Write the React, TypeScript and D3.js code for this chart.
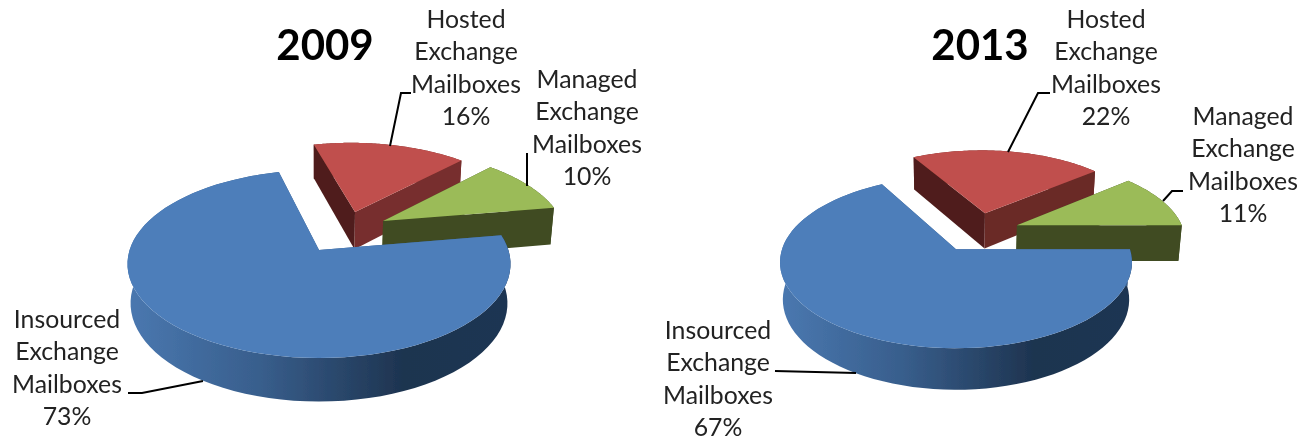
import React from "react";
import * as d3 from "d3";

const categories = ["Insourced", "Hosted", "Managed"];
const values2009 = [73, 16, 10];
const values2013 = [67, 22, 11];
const topColors = ["#4d7eba", "#c0504d", "#9bbb59"];
const startFaceColors = ["#3a5f8c", "#4f1f1c", "#3f4b20"];
const endFaceColors2009 = ["#3a5f8c", "#772f2d", "#3f4b20"];
const endFaceColors2013 = ["#3a5f8c", "#6b2a28", "#3f4b20"];
const wallColors = ["", "#772f2d", "#3f4b20"];

const deg = Math.PI / 180;

type Geo = {
  id: string; cx: number; apexY: number; rx: number; ry: number; k: number; m: number; h: number;
  startDeg: number; offsets: number[][]; radii: number[]; gx0: number; gx1: number;
};

const geo2009: Geo = {
  id: "a", cx: 319, apexY: 250, rx: 189.4, ry: 91.9, k: -0.149, m: 0.016, h: 39.5,
  startDeg: 80.5, offsets: [[0, 0], [0.2026, -0.44], [0.355, -0.331]], radii: [1, 0.972, 0.99], gx0: 127, gx1: 510,
};
const geo2013: Geo = {
  id: "b", cx: 956, apexY: 249.3, rx: 174, ry: 84, k: -0.151, m: 0.016, h: 37.5,
  startDeg: 90, offsets: [[0, 0], [0.178, -0.458], [0.366, -0.298]], radii: [1, 0.975, 0.99], gx0: 780, gx1: 1132,
};

type Label = { lines: string[]; x: number; y: number };
const labels2009: Label[] = [
  { lines: ["Hosted", "Exchange", "Mailboxes", "16%"], x: 466, y: 20 },
  { lines: ["Managed", "Exchange", "Mailboxes", "10%"], x: 587, y: 80 },
  { lines: ["Insourced", "Exchange", "Mailboxes", "73%"], x: 67, y: 320 },
];
const labels2013: Label[] = [
  { lines: ["Hosted", "Exchange", "Mailboxes", "22%"], x: 1106, y: 20 },
  { lines: ["Managed", "Exchange", "Mailboxes", "11%"], x: 1243, y: 117 },
  { lines: ["Insourced", "Exchange", "Mailboxes", "67%"], x: 718, y: 331 },
];
const leaders: number[][][] = [
  [[411, 93], [401, 93], [390, 146]],
  [[527, 153], [527, 186]],
  [[128, 393], [142, 393], [203, 381]],
  [[1050, 93], [1038, 93], [1008, 152]],
  [[1183, 191], [1172, 191], [1163, 201]],
  [[775, 371], [856, 373]],
];

const line = d3.line();

function Pie({ values, geo, endFaces }: { values: number[]; geo: Geo; endFaces: string[] }) {
  const arcs = d3.pie<number>().sort(null).startAngle(geo.startDeg * deg).endAngle(geo.startDeg * deg + 2 * Math.PI)(values);
  const project = (X: number, Y: number, Z: number): [number, number] => {
    const d = 1 + geo.k * Y + geo.m * Z;
    return [geo.cx + (geo.rx * X) / d, geo.apexY + (geo.ry * Y + geo.h * Z) / d];
  };
  const order = [1, 2, 0];
  return (
    <g>
      <defs>
        <linearGradient id={"G" + geo.id} gradientUnits="userSpaceOnUse" x1={geo.gx0} x2={geo.gx1} y1="0" y2="0">
          <stop offset="0" stopColor="#4a78b0" />
          <stop offset="0.35" stopColor="#385e8c" />
          <stop offset="0.72" stopColor="#1e3450" />
          <stop offset="1" stopColor="#1f3552" />
        </linearGradient>
      </defs>
      {order.map((i) => {
        const a = arcs[i];
        const [ox, oy] = geo.offsets[i];
        const r = geo.radii[i];
        const n = 80;
        const angles = d3.range(n + 1).map((t) => a.startAngle + ((a.endAngle - a.startAngle) * t) / n);
        const rim = (z: number) => angles.map((t) => project(ox + r * Math.sin(t), oy - r * Math.cos(t), z));
        const apex = (z: number) => project(ox, oy, z);
        const rim0 = rim(0);
        const rim1 = rim(1);
        const top = line([apex(0), ...rim0])! + "Z";
        const wall = line([...rim0, ...rim1.slice().reverse()])! + "Z";
        const startFace = line([apex(0), rim0[0], rim1[0], apex(1)])! + "Z";
        const endFace = line([apex(0), rim0[n], rim1[n], apex(1)])! + "Z";
        const wallFill = i === 0 ? `url(#G${geo.id})` : wallColors[i];
        return (
          <g key={categories[i]}>
            <path d={wall} fill={wallFill} />
            <path d={startFace} fill={startFaceColors[i]} />
            <path d={endFace} fill={endFaces[i]} />
            <path d={top} fill={topColors[i]} />
          </g>
        );
      })}
    </g>
  );
}

function Labels({ items }: { items: Label[] }) {
  return (
    <g>
      {items.map((l) => (
        <text key={l.lines[0] + l.x} textAnchor="middle" fontFamily="Lato" fontSize={24.8} fill="#222">
          {l.lines.map((t, j) => (
            <tspan key={j} x={l.x} y={l.y + j * 32.4 + 8}>{t}</tspan>
          ))}
        </text>
      ))}
    </g>
  );
}

export default function App() {
  return (
    <svg width={1312} height={442} style={{ position: "absolute", left: 0, top: 0, display: "block" }}>
      <defs>
        <filter id="soft" x="0" y="0" width="100%" height="100%">
          <feGaussianBlur stdDeviation="0.5" />
        </filter>
      </defs>
      <rect width={1312} height={442} fill="#fff" />
      <g filter="url(#soft)">
        <Pie values={values2009} geo={geo2009} endFaces={endFaceColors2009} />
        <Pie values={values2013} geo={geo2013} endFaces={endFaceColors2013} />
        {leaders.map((pts, i) => (
          <path key={i} d={line(pts as [number, number][])!} fill="none" stroke="#000" strokeWidth={2} />
        ))}
        <Labels items={labels2009} />
        <Labels items={labels2013} />
        <text x={325} y={60} textAnchor="middle" fontFamily="Lato" fontWeight={700} fontSize={42} fill="#000">2009</text>
        <text x={980} y={60} textAnchor="middle" fontFamily="Lato" fontWeight={700} fontSize={42} fill="#000">2013</text>
      </g>
    </svg>
  );
}
